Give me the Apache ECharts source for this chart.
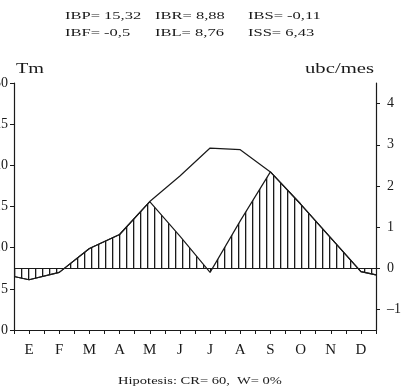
<!DOCTYPE html>
<html lang="es">
<head>
    <meta charset="UTF-8">
    <title>diagrama bioclimatico</title>
    <script src="https://cdn.jsdelivr.net/npm/echarts@6/dist/echarts.min.js"></script>
    <style>
        html, body { margin: 0; padding: 0; background: #fff; }
        #main { width: 403px; height: 392px; }
    </style>
</head>
<body>
<div id="main"></div>
<script type="text/javascript">
    // meses, posiciones en el eje x (0 = borde izquierdo, 12 = borde derecho)
    const months = ['E', 'F', 'M', 'A', 'M', 'J', 'J', 'A', 'S', 'O', 'N', 'D'];
    const xPos = [0, 0.5, 1.5, 2.5, 3.5, 4.5, 5.5, 6.5, 7.5, 8.5, 9.5, 10.5, 11.5, 12];
    // temperatura media (eje izquierdo, Tm)
    const tm = [6.5, 6.1, 7.0, 9.9, 11.6, 15.6, 18.7, 22.1, 21.9, 19.2, 15.3, 11.2, 7.1, 6.7];
    // intensidad bioclimatica real (eje derecho, ubc/mes)
    const ibr = [-0.2, -0.28, -0.1, 0.48, 0.82, 1.62, 0.78, -0.1, 1.15, 2.34, 1.56, 0.74, -0.08, -0.16];
    const tmTicks = [0, 5, 10, 15, 20, 25, 30];
    const ubcTicks = [-1, 0, 1, 2, 3, 4];
    const topLine1 = [['IBP= 15,32', 65], ['IBR= 8,88', 155], ['IBS= -0,11', 248]];
    const topLine2 = [['IBF= -0,5', 65], ['IBL= 8,76', 155], ['ISS= 6,43', 248]];

    const font = 'Liberation Serif';
    const ink = '#1a1a1a';

    // rayado vertical
    const hatch = document.createElement('canvas');
    hatch.width = 7;
    hatch.height = 4;
    const hctx = hatch.getContext('2d');
    hctx.fillStyle = ink;
    hctx.fillRect(0, 0, 1.3, 4);

    function pairs(ys) {
        return xPos.map(function (x, i) { return [x, ys[i]]; });
    }

    // el texto del original es mas ancho que alto: se estira con scaleX
    function textItem(t, x, y, size, sx, align) {
        return {
            type: 'text', x: x, y: y, scaleX: sx,
            style: { text: t, font: size + 'px "' + font + '"', fill: ink, textAlign: align || 'left', textVerticalAlign: 'middle' }
        };
    }

    const graphics = [];
    topLine1.forEach(function (t) { graphics.push(textItem(t[0], t[1], 16, 11, 1.5)); });
    topLine2.forEach(function (t) { graphics.push(textItem(t[0], t[1], 33, 11, 1.5)); });
    graphics.push(textItem('Tm', 16, 69, 15, 1.35));
    graphics.push(textItem('ubc/mes', 305, 69, 15, 1.38));
    graphics.push(textItem('Hipotesis: CR= 60,  W= 0%', 200, 381, 10, 1.45, 'center'));

    const myChart = echarts.init(document.getElementById('main'));
    const option = {
        animation: false,
        backgroundColor: '#fff',
        grid: { left: 14, right: 27, top: 83, bottom: 62, outerBoundsMode: 'none' },
        graphic: graphics,
        xAxis: {
            type: 'value', min: 0, max: 12, interval: 0.5,
            splitLine: { show: false },
            axisLine: { lineStyle: { color: ink, width: 1.2 } },
            axisTick: { length: 4, lineStyle: { color: ink } },
            axisLabel: {
                customValues: xPos.slice(1, 13), margin: 13,
                fontFamily: font, fontSize: 15, color: ink,
                formatter: function (v) { return months[Math.floor(v)]; }
            }
        },
        yAxis: [{
            type: 'value', min: 0, max: 30, interval: 5,
            splitLine: { show: false },
            axisLine: { show: true, lineStyle: { color: ink, width: 1.2 } },
            axisTick: { show: true, length: 4, customValues: tmTicks, lineStyle: { color: ink } },
            axisLabel: { customValues: tmTicks, margin: 6, fontFamily: font, fontSize: 14, color: ink }
        }, {
            type: 'value', min: -1.5, max: 4.5, position: 'right',
            splitLine: { show: false },
            axisLine: { show: true, lineStyle: { color: ink, width: 1.2 } },
            axisTick: { show: true, length: 4, customValues: ubcTicks, lineStyle: { color: ink } },
            axisLabel: { customValues: ubcTicks, margin: 11, fontFamily: font, fontSize: 14, color: ink,
                formatter: function (v) { return v < 0 ? '\u2013' + (-v) : String(v); } }
        }],
        series: [{
            name: 'IBR', type: 'line', yAxisIndex: 1,
            data: pairs(ibr), symbol: 'none',
            lineStyle: { color: ink, width: 1.2 },
            areaStyle: { color: { image: hatch, repeat: 'repeat' }, opacity: 1 },
            markLine: {
                silent: true, symbol: 'none', label: { show: false },
                lineStyle: { color: ink, width: 1.2, type: 'solid' },
                data: [{ yAxis: 0 }]
            },
            z: 2
        }, {
            name: 'Tm', type: 'line', yAxisIndex: 0,
            data: pairs(tm), symbol: 'none',
            lineStyle: { color: ink, width: 1.2 },
            z: 3
        }]
    };
    myChart.setOption(option);
</script>
</body>
</html>
